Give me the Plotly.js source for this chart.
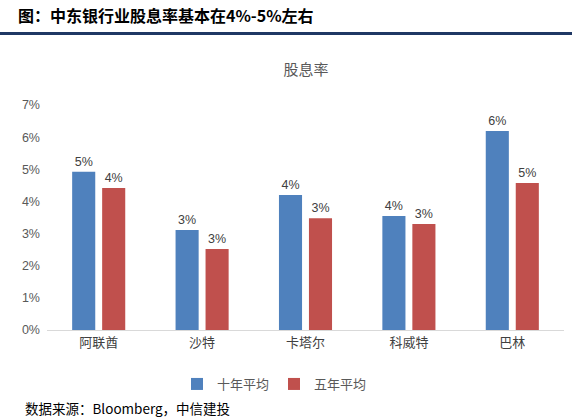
<!DOCTYPE html>
<html>
<head>
<meta charset="utf-8">
<script src="https://cdn.plot.ly/plotly-3.0.1.min.js"></script>
<style>
html,body{margin:0;padding:0;background:#fff;}
#chart{width:572px;height:418px;}
</style>
</head>
<body>
<div id="chart"></div>
<script>
const categories = ['阿联酋', '沙特', '卡塔尔', '科威特', '巴林'];
const tenYearAvg = [4.92, 3.11, 4.20, 3.55, 6.19];
const fiveYearAvg = [4.42, 2.52, 3.48, 3.30, 4.57];
const seriesNames = ['十年平均', '五年平均'];
const yTickVals = [0, 1, 2, 3, 4, 5, 6, 7];
const yTickText = ['0%', '1%', '2%', '3%', '4%', '5%', '6%', '7%'];

const cjk = '"Noto Sans CJK SC", "Liberation Sans", sans-serif';
const labelFont = {family: 'Liberation Sans, Arial, sans-serif', size: 12.5, color: '#404040'};

const traces = [
  {
    type: 'bar', name: seriesNames[0], x: categories, y: tenYearAvg,
    marker: {color: '#4F81BD'},
    texttemplate: '%{y:.0f}%', textposition: 'outside', textfont: labelFont,
    cliponaxis: false, hoverinfo: 'skip'
  },
  {
    type: 'bar', name: seriesNames[1], x: categories, y: fiveYearAvg,
    marker: {color: '#C0504D'},
    texttemplate: '%{y:.0f}%', textposition: 'outside', textfont: labelFont,
    cliponaxis: false, hoverinfo: 'skip'
  }
];

const layout = {
  width: 572, height: 418,
  margin: {l: 47, r: 8, t: 105, b: 88},
  paper_bgcolor: '#ffffff', plot_bgcolor: '#ffffff',
  barmode: 'group', bargap: 0.42, bargroupgap: 0.23,
  showlegend: true,
  legend: {
    orientation: 'h', x: 0.44, xanchor: 'center', y: -0.24, yanchor: 'middle',
    font: {family: cjk, size: 13, color: '#595959'},
    itemwidth: 30, traceorder: 'normal'
  },
  title: {
    text: '股息率', x: 0.535, xanchor: 'center', y: 1 - 70/418, yanchor: 'middle',
    yref: 'container', xref: 'container',
    font: {family: cjk, size: 15, color: '#595959'}
  },
  xaxis: {
    type: 'category', showgrid: false, zeroline: false,
    showline: true, linecolor: '#D9D9D9', linewidth: 1,
    ticks: '', tickfont: {family: cjk, size: 13, color: '#404040'},
    fixedrange: true
  },
  yaxis: {
    range: [0, 7], tickvals: yTickVals, ticktext: yTickText,
    showgrid: false, zeroline: false, showline: false, ticks: '',
    tickfont: {family: 'Liberation Sans, Arial, sans-serif', size: 12.5, color: '#595959'},
    ticklabelstandoff: 6, fixedrange: true
  },
  annotations: [
    {
      text: '<b>图：中东银行业股息率基本在4%-5%左右</b>',
      xref: 'paper', yref: 'paper',
      x: (16 - 47) / 517, y: (330 - 15) / 225, xanchor: 'left', yanchor: 'middle',
      showarrow: false, font: {family: cjk, size: 16, color: '#000000'}
    },
    {
      text: '数据来源：Bloomberg，中信建投',
      xref: 'paper', yref: 'paper',
      x: (23 - 47) / 517, y: (330 - 408) / 225, xanchor: 'left', yanchor: 'middle',
      showarrow: false, font: {family: cjk, size: 13.5, color: '#000000'}
    }
  ],
  shapes: [
    {
      type: 'line', xref: 'paper', yref: 'paper',
      x0: -47 / 517, x1: (572 - 47) / 517,
      y0: (330 - 33.5) / 225, y1: (330 - 33.5) / 225,
      line: {color: '#1F3864', width: 3}
    }
  ]
};

Plotly.newPlot('chart', traces, layout, {displayModeBar: false, staticPlot: true});
</script>
</body>
</html>
